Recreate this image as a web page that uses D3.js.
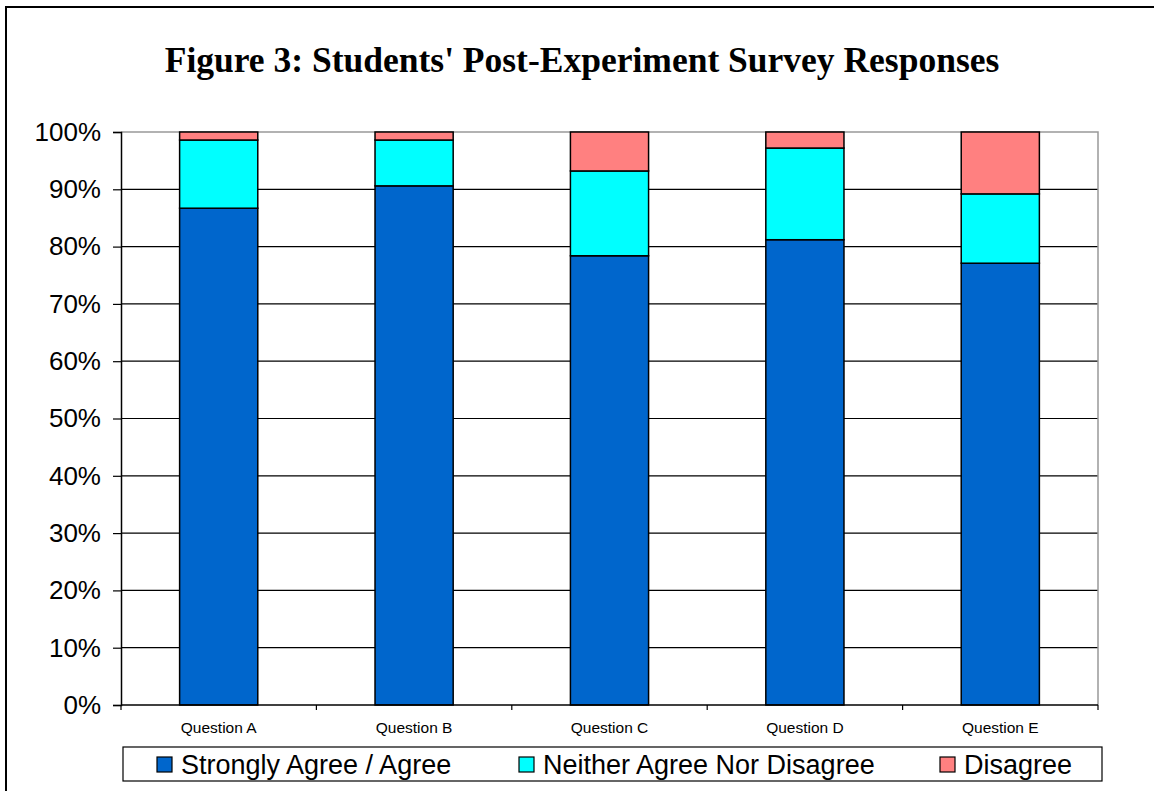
<!DOCTYPE html>
<html>
<head>
<meta charset="utf-8">
<script src="https://cdnjs.cloudflare.com/ajax/libs/d3/7.8.5/d3.min.js"></script>
<style>
  html, body { margin:0; padding:0; background:#fff; }
  svg { display:block; }
</style>
</head>
<body>
<div id="chart"></div>
<script>
var questions = ['Question A','Question B','Question C','Question D','Question E'];
var seriesNames = ['Strongly Agree / Agree','Neither Agree Nor Disagree','Disagree'];
var agree    = [86.7, 90.6, 78.4, 81.2, 77.1];
var neither  = [11.9,  8.0, 14.8, 16.0, 12.1];
var disagree = [ 1.4,  1.4,  6.8,  2.8, 10.8];
var yTicks = [0,10,20,30,40,50,60,70,80,90,100];
var colors = ['#0066CC','#00FFFF','#FF8080'];

var W = 1154, H = 791;
var plot = {left:121, right:1098, top:132, bottom:705};

var svg = d3.select('#chart').append('svg')
  .attr('width', W).attr('height', H);

// outer frame, runs off the right/bottom edge like the original
svg.append('rect')
  .attr('x', 6).attr('y', 7)
  .attr('width', W + 20).attr('height', H + 20)
  .attr('fill', 'none').attr('stroke', '#000').attr('stroke-width', 2);

svg.append('text')
  .attr('x', 582).attr('y', 72)
  .attr('text-anchor', 'middle')
  .attr('font-family', '"Liberation Serif", "Times New Roman", serif')
  .attr('font-weight', 'bold')
  .attr('font-size', '35.5px')
  .text("Figure 3: Students' Post-Experiment Survey Responses");

var x = d3.scaleBand().domain(questions)
  .range([plot.left, plot.right]).paddingInner(0.6).paddingOuter(0.3);
var xEdge = d3.scaleBand().domain(questions).range([plot.left, plot.right]);
var y = d3.scaleLinear().domain([0, 100]).range([plot.bottom, plot.top]);

// gridlines
svg.append('g').selectAll('line')
  .data(yTicks.filter(function(t){ return t > 0 && t < 100; }))
  .enter().append('line')
  .attr('x1', plot.left).attr('x2', plot.right)
  .attr('y1', function(d){ return y(d); }).attr('y2', function(d){ return y(d); })
  .attr('stroke', '#000').attr('stroke-width', 1.2);

// plot area border (top / right gray)
svg.append('path')
  .attr('d', 'M' + plot.left + ',' + y(100) + 'H' + plot.right + 'V' + plot.bottom)
  .attr('fill', 'none').attr('stroke', '#999').attr('stroke-width', 1.5);

// stacked bars
var rows = questions.map(function(q, i){
  return {q:q, agree:agree[i], neither:neither[i], disagree:disagree[i]};
});
var stack = d3.stack().keys(['agree','neither','disagree'])(rows);

svg.append('g').selectAll('g')
  .data(stack).enter().append('g')
  .attr('fill', function(d, i){ return colors[i]; })
  .selectAll('rect')
  .data(function(d){ return d; })
  .enter().append('rect')
  .attr('x', function(d){ return x(d.data.q); })
  .attr('width', x.bandwidth())
  .attr('y', function(d){ return y(Math.min(d[1], 100)); })
  .attr('height', function(d){ return y(d[0]) - y(Math.min(d[1], 100)); })
  .attr('stroke', '#000').attr('stroke-width', 1.5);

// y axis
var yAxis = d3.axisLeft(y).tickValues(yTicks).tickSize(8).tickPadding(12)
  .tickFormat(function(d){ return d + '%'; });
var gy = svg.append('g').attr('transform', 'translate(' + plot.left + ',0)').call(yAxis);
gy.select('.domain').attr('stroke', '#000').attr('stroke-width', 1.5);
gy.selectAll('.tick line').attr('stroke', '#000').attr('stroke-width', 1.2);
gy.selectAll('text').attr('font-family', '"Liberation Sans", Arial, sans-serif')
  .attr('font-size', '26px').attr('fill', '#000');

// x axis: tick marks between categories
var gx = svg.append('g').attr('transform', 'translate(0,' + plot.bottom + ')');
gx.append('line').attr('x1', plot.left).attr('x2', plot.right)
  .attr('stroke', '#000').attr('stroke-width', 1.5);
gx.selectAll('line.sep')
  .data(questions.concat(['end']))
  .enter().append('line').attr('class', 'sep')
  .attr('x1', function(d){ return d === 'end' ? plot.right : xEdge(d); })
  .attr('x2', function(d){ return d === 'end' ? plot.right : xEdge(d); })
  .attr('y1', 0).attr('y2', 5)
  .attr('stroke', '#000').attr('stroke-width', 1.2);
gx.selectAll('text')
  .data(questions).enter().append('text')
  .attr('x', function(d){ return x(d) + x.bandwidth() / 2; })
  .attr('y', 28)
  .attr('text-anchor', 'middle')
  .attr('font-family', '"Liberation Sans", Arial, sans-serif')
  .attr('font-size', '15.5px')
  .text(function(d){ return d; });

// legend
var legend = svg.append('g');
legend.append('rect')
  .attr('x', 123).attr('y', 747).attr('width', 979).attr('height', 34)
  .attr('fill', '#fff').attr('stroke', '#000').attr('stroke-width', 1.2);
var legendX = [157, 519, 940];
var items = legend.selectAll('g.item')
  .data(seriesNames).enter().append('g').attr('class', 'item')
  .attr('transform', function(d, i){ return 'translate(' + legendX[i] + ',0)'; });
items.append('rect')
  .attr('x', 0).attr('y', 757).attr('width', 15).attr('height', 15)
  .attr('fill', function(d, i){ return colors[i]; })
  .attr('stroke', '#000').attr('stroke-width', 1.2);
items.append('text')
  .attr('x', 24).attr('y', 774)
  .attr('font-family', '"Liberation Sans", Arial, sans-serif')
  .attr('font-size', '27px')
  .text(function(d){ return d; });
</script>
</body>
</html>
